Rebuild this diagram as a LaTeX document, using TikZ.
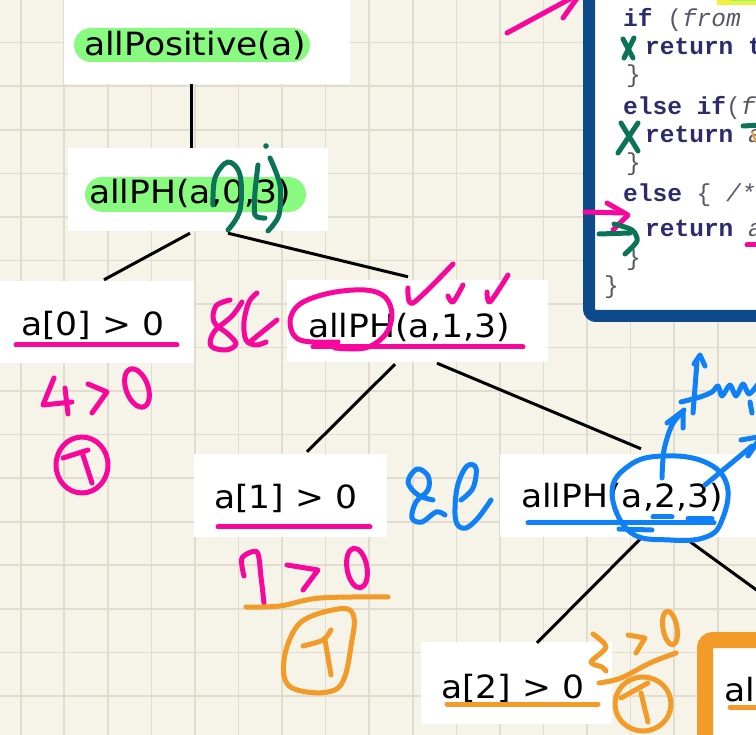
\documentclass[tikz,border=0pt]{standalone}
\usepackage{fontspec}
\setmainfont{DejaVu Sans}
\newfontfamily\lab[FakeStretch=1.08]{DejaVu Sans}
\newfontfamily\code{Liberation Mono}
\usetikzlibrary{calc}
\definecolor{paper}{HTML}{F6F4E8}
\definecolor{gridc}{HTML}{E0DDCF}
\definecolor{hl}{HTML}{88FA80}
\definecolor{pk}{HTML}{F7079C}
\definecolor{gr}{HTML}{0B7358}
\definecolor{bl}{HTML}{0F80F5}
\definecolor{org}{HTML}{F39B28}
\definecolor{navy}{HTML}{0C4A8C}
\definecolor{codec}{HTML}{2C2C6C}
\definecolor{codeg}{HTML}{58586A}
\definecolor{yel}{HTML}{EEF23A}
\begin{document}
\begin{tikzpicture}[x=1pt,y=-1pt,
  box/.style={rectangle,fill=white,draw=none,inner sep=0pt},
  lbl/.style={anchor=base west,inner sep=0pt,font=\lab\fontsize{32}{38}\selectfont},
  codet/.style={anchor=base west,inner sep=0pt,text=codec,font=\code\fontsize{24.5}{28}\selectfont},
  conn/.style={draw=black,line width=3pt},
  gridline/.style={draw=gridc,line width=1.6pt},
  pen/.style={line width=5pt,line cap=round,line join=round},
  pkpen/.style={pen,draw=pk},
  grpen/.style={pen,draw=gr},
  blpen/.style={pen,draw=bl},
  orpen/.style={pen,draw=org}]
\useasboundingbox (0,0) rectangle (756,735);
\clip (0,0) rectangle (756,735);
\fill[paper] (-5,-5) rectangle (761,740);
\foreach \i in {0,...,17} \draw[gridline] ({20.7+43.57*\i},-5) -- ({20.7+43.57*\i},740);
\foreach \j in {0,...,16} \draw[gridline] (-5,{42.7+43.55*\j}) -- (761,{42.7+43.55*\j});

% ---------- code box ----------
\draw[navy,line width=12pt,fill=white,rounded corners=7pt] (589,-30) rectangle (790,316);
\fill[yel] (717,-10) rectangle (770,5);
\fill[hl,rounded corners=4pt] (728,-10) rectangle (770,1);
\node[codet] (c1) at (623,27) {\textbf{if} {\color{codeg}(\textit{from}}};
\node[codet] (c2) at (645,55) {\textbf{return t}};
\node[codet] (c3) at (626,83) {\color{codeg}\}};
\node[codet] (c4) at (623,115) {\textbf{else if}{\color{codeg}(\textit{f}}};
\node[codet] (c5) at (645,143) {\textbf{return} {\color{codeg}\textit{a}}};
\node[codet] (c6) at (626,171) {\color{codeg}\}};
\node[codet] (c7) at (623,202) {\textbf{else} {\color{codeg}\{ \textit{/*}}};
\node[codet] (c8) at (645,237) {\textbf{return} {\color{codeg}\textit{a}}};
\node[codet] (c9) at (626,266) {\color{codeg}\}};
\node[codet] (c10) at (604,294) {\color{codeg}\}};

% ---------- boxes ----------
\node[box,minimum width=286pt,minimum height=94pt] (A) at (207,37) {};
\node[box,minimum width=260pt,minimum height=83pt] (B) at (198,189.5) {};
\node[box,minimum width=199pt,minimum height=82pt] (C) at (94.5,322) {};
\node[box,minimum width=261pt,minimum height=82pt] (D) at (417.5,321) {};
\node[box,minimum width=193pt,minimum height=83pt] (E) at (290.5,495.5) {};
\node[box,minimum width=290pt,minimum height=83pt] (F) at (645,495.5) {};
\node[box,minimum width=191pt,minimum height=82pt] (G) at (516.5,683) {};
\draw[org,line width=16pt,fill=white,rounded corners=8pt] (705,640) rectangle (790,770);
\coordinate (Foff) at (762,594);

% ---------- highlights ----------
\fill[hl,rounded corners=17pt] (74,28) rectangle (310,62);
\fill[hl,rounded corners=17.5pt] (85,177) rectangle (306,212);

% ---------- texts ----------
\node[lbl] (tA) at (84,56) {allPositive(a)};
\node[lbl] (tB) at (89,204) {allPH(a,0,3)};
\node[lbl] (tC) at (21,336) {a[0] > 0};
\node[lbl] (tD) at (308,338) {allPH(a,1,3)};
\node[lbl] (tE) at (214,509) {a[1] > 0};
\node[lbl] (tF) at (521,508) {allPH(a,2,3)};
\node[lbl] (tG) at (441,698) {a[2] > 0};
\node[lbl] (tH) at (724,701) {al};

% ---------- connectors ----------
\draw[conn] ([xshift=-16pt]A.south) -- ([xshift=-7pt]B.north);
\draw[conn] ([xshift=-8pt,yshift=-2pt]B.south) -- ([xshift=9.5pt,yshift=1pt]C.north);
\draw[conn] ([xshift=30pt,yshift=-2pt]B.south) -- ([xshift=-9.5pt,yshift=3pt]D.north);
\draw[conn] ([xshift=-22.5pt,yshift=-2pt]D.south) -- ([xshift=16.5pt,yshift=2pt]E.north);
\draw[conn] ([xshift=19.5pt,yshift=-1pt]D.south) -- ([xshift=-4pt,yshift=5pt]F.north);
\draw[conn] ([xshift=-5pt,yshift=-2pt]F.south) -- ([xshift=20.5pt,yshift=-1pt]G.north);
\draw[conn] ([xshift=43pt,yshift=-3pt]F.south) -- (Foff);

% ---------- pink ink ----------
\draw[pkpen] (507,33) -- (590,-12);
\draw[pkpen] (563,18) -- (580,-6);
\draw[pkpen] (16,345) -- (177,345);
\draw[pkpen] (313,347) -- (523,347);
\draw[pkpen] (218,527) -- (370,527);
\draw[pkpen] plot[smooth,tension=0.6] coordinates {(338,342)(300,340)(290,322)(300,304)(330,293)(365,290)(385,297)(392,315)(385,335)(365,348)(335,348)};
\draw[pkpen] plot[smooth,tension=0.5] coordinates {(408,288)(413,303)(453,264)};
\draw[pkpen] plot[smooth,tension=0.5] coordinates {(448,296)(453,302)(463,285)};
\draw[pkpen] plot[smooth,tension=0.5] coordinates {(487,292)(490,302)(508,275)};
% &&
\draw[pkpen] plot[smooth,tension=0.6] coordinates {(230,300)(216,306)(214,322)(228,334)(236,344)(226,350)(211,346)(214,332)(232,316)(242,302)};
\draw[pkpen] plot[smooth,tension=0.6] coordinates {(257,293)(249,302)(244,322)(246,340)(256,345)(266,342)};
\draw[pkpen] (277,320) -- (251,341);
% 4 > 0
\draw[pkpen] (54,378) -- (43,405) -- (72,402);
\draw[pkpen] (65,388) -- (68,414);
\draw[pkpen] (88,384) -- (107,392) -- (92,413);
\draw[pkpen,rotate around={20:(137,388)}] (137,388) ellipse [x radius=11pt,y radius=20pt];
\draw[pkpen] (82,465) ellipse [x radius=26pt,y radius=28pt];
\draw[pkpen] (63,458) -- (88,450);
\draw[pkpen] (82,452) -- (92,483);
% 7 > 0
\draw[pkpen] plot[smooth,tension=0.5] coordinates {(244,576)(242,558)(257,552)(261,577)(264,603)};
\draw[pkpen] (287,565) -- (318,570) -- (303,590);
\draw[pkpen,rotate around={10:(357,568)}] (357,568) ellipse [x radius=10pt,y radius=20pt];
% arrow and underline in code box
\draw[pkpen] (585,212) -- (622,213);
\draw[pkpen] (607,203) -- (628,215) -- (613,230);
\draw[pkpen] (747,245) -- (760,245);

% ---------- green ink ----------
\draw[grpen] plot[smooth,tension=0.6] coordinates {(213,205)(215,178)(228,162)(240,175)(240,210)(228,230)};
\draw[grpen] plot[smooth,tension=0.5] coordinates {(258,165)(255,192)(255,215)(265,218)};
\draw[grpen] plot[smooth,tension=0.5] coordinates {(270,158)(280,185)(279,215)(268,231)};
\fill[gr] (266,146) circle[radius=2.8pt];
\draw[grpen] (623,39) -- (633,58);
\draw[grpen] (634,38) -- (624,58);
\draw[grpen] (621,123) -- (638,151);
\draw[grpen] (638,123) -- (618,153);
\draw[grpen] (743,126) -- (760,125);
\draw[grpen] (599,234) -- (630,233);
\draw[grpen] plot[smooth,tension=0.5] coordinates {(614,224)(632,230)(637,241)(625,254)};
\draw[org,line width=2pt,line cap=round] (752,132) -- (756,142);

% ---------- blue ink ----------
\draw[blpen] plot[smooth,tension=0.6] coordinates {(445,515)(436,512)(422,522)(412,518)(416,502)(428,490)(428,476)(417,469)(408,482)(418,495)(433,500)};
\draw[blpen] plot[smooth,tension=0.6] coordinates {(461,500)(473,488)(476,468)(467,466)(458,484)(455,508)(457,524)(466,528)(478,518)(491,500)};
\draw[blpen] (528,523) -- (714,523);
\draw[blpen] (653,517) -- (672,517);
\draw[blpen] (688,519) -- (712,519);
\draw[blpen] (619,529) -- (652,530);
\draw[blpen] plot[smooth cycle,tension=0.7] coordinates {(612,492)(630,465)(663,456)(705,462)(727,485)(722,520)(706,537)(670,540)(630,532)};
\draw[blpen] plot[smooth,tension=0.5] coordinates {(662,478)(664,450)(672,425)(684,410)};
\draw[blpen] (667,423) -- (683,411) -- (683,428);
\draw[blpen] (697,362) -- (693,413);
\draw[blpen] (694,364) -- (700,355) -- (705,366);
\draw[blpen] plot[smooth,tension=0.5] coordinates {(681,402)(700,397)(712,392)(718,386)(722,396)(730,385)(736,396)(743,384)(749,394)(758,384)};
\draw[blpen] (750,402) -- (752,413);
\draw[blpen] (705,485) -- (752,446);
\draw[blpen] (741,440) -- (758,437);
\draw[blpen] (748,456) -- (758,441);

% ---------- orange ink ----------
\draw[orpen] plot[smooth,tension=0.6] coordinates {(246,607)(280,606)(320,598)(388,597)};
\draw[orpen] plot[smooth cycle,tension=0.6] coordinates {(338,609)(300,623)(284,660)(292,688)(338,688)(352,640)(353,614)};
\draw[orpen] plot[smooth,tension=0.5] coordinates {(303,646)(323,640)(331,630)};
\draw[orpen] (325,640) -- (331,675);
\draw[orpen] (447,704) -- (598,704);
\draw[orpen] (730,707) -- (760,707);
\draw[orpen] plot[smooth,tension=0.5] coordinates {(593,634)(606,647)(591,662)(602,667)(606,671)};
\draw[orpen] (628,635) -- (645,638) -- (636,653);
\draw[orpen,rotate around={10:(670,628)}] (670,628) ellipse [x radius=7pt,y radius=17pt];
\draw[orpen] plot[smooth,tension=0.6] coordinates {(599,683)(621,678)(650,663)(676,653)};
\draw[orpen] (643,704) ellipse [x radius=28pt,y radius=27pt];
\draw[orpen] (621,698) -- (648,683);
\draw[orpen] (641,693) -- (648,722);
\end{tikzpicture}
\end{document}
